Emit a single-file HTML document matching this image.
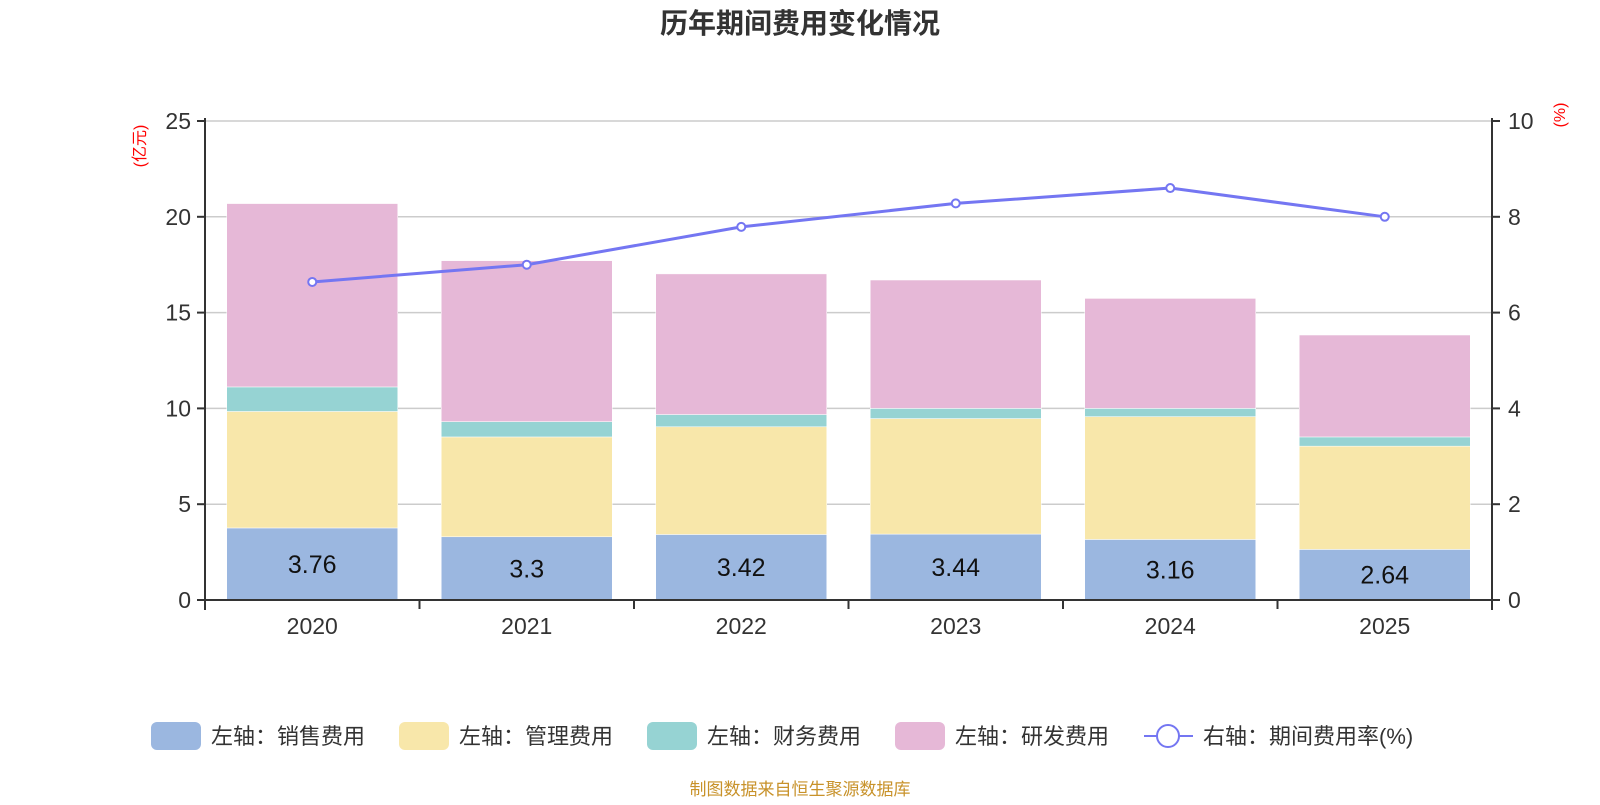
<!DOCTYPE html>
<html><head><meta charset="utf-8"><style>
body{margin:0;background:#fff;font-family:"Liberation Sans","Noto Sans CJK SC",sans-serif}
svg text{font-family:"Liberation Sans","Noto Sans CJK SC",sans-serif}
</style></head><body>
<svg id="c" width="1600" height="800" xmlns="http://www.w3.org/2000/svg">
<text x="800" y="33" text-anchor="middle" font-size="28" font-weight="bold" fill="#333">历年期间费用变化情况</text>
<text transform="translate(145,146) rotate(-90)" text-anchor="middle" font-size="16" fill="#f00">(亿元)</text>
<text transform="translate(1565,115) rotate(-90)" text-anchor="middle" font-size="16" fill="#f00">(%)</text>
<g id="grid"></g><g id="bars"></g><g id="axes"></g><g id="line"></g>
<g id="legend" font-size="22" fill="#333">
<rect x="151" y="722" width="50" height="28" rx="6" fill="#9bb7e0"/>
<text x="211" y="744">左轴：销售费用</text>
<rect x="399" y="722" width="50" height="28" rx="6" fill="#f8e7aa"/>
<text x="459" y="744">左轴：管理费用</text>
<rect x="647" y="722" width="50" height="28" rx="6" fill="#96d3d3"/>
<text x="707" y="744">左轴：财务费用</text>
<rect x="895" y="722" width="50" height="28" rx="6" fill="#e6b8d7"/>
<text x="955" y="744">左轴：研发费用</text>
<line x1="1144" y1="736" x2="1193" y2="736" stroke="#7476f2" stroke-width="2"/>
<circle cx="1168" cy="736" r="11" fill="#fff" stroke="#7476f2" stroke-width="2"/>
<text x="1203" y="744">右轴：期间费用率(%)</text>
</g>
<text x="800" y="795" text-anchor="middle" font-size="17" fill="#c8922a">制图数据来自恒生聚源数据库</text>
</svg>
<script>
const categories=["2020","2021","2022","2023","2024","2025"];
const sales=[3.76,3.3,3.42,3.44,3.16,2.64];
const admin=[6.08,5.21,5.62,6.03,6.41,5.39];
const finance=[1.28,0.8,0.64,0.53,0.43,0.48];
const rd=[9.57,8.4,7.34,6.7,5.74,5.32];
const rate=[6.64,7.0,7.79,8.28,8.6,8.0];
const leftTicks=[0,5,10,15,20,25];
const rightTicks=[0,2,4,6,8,10];
const NS="http://www.w3.org/2000/svg";
const X0=205,X1=1492,Y0=600,Y1=121;
const band=(X1-X0)/categories.length;
const xc=i=>X0+band*(i+0.5);
const yl=v=>Y0-(v/25)*(Y0-Y1);
const yr=v=>Y0-(v/10)*(Y0-Y1);
function mk(tag,attrs,parent){const e=document.createElementNS(NS,tag);for(const k in attrs)e.setAttribute(k,attrs[k]);document.getElementById(parent).appendChild(e);return e;}
leftTicks.forEach((t,i)=>{
  const y=yl(t);
  if(t>0){const g=mk('line',{x1:X0,x2:X1,y1:y,y2:y,stroke:'#ccc','stroke-width':1.5},'grid');
  
  }
  const tk=mk('line',{x1:X0-8,x2:X0,y1:y,y2:y,stroke:'#333','stroke-width':2},'axes');
  
  
  const lb=mk('text',{x:X0-14,y:y+8,'text-anchor':'end','font-size':23,fill:'#333'},'axes');lb.textContent=t;
  
  
});
rightTicks.forEach(t=>{
  const y=yr(t);
  const tk=mk('line',{x1:X1,x2:X1+8,y1:y,y2:y,stroke:'#333','stroke-width':2},'axes');
  
  
  const lb=mk('text',{x:X1+16,y:y+8,'font-size':23,fill:'#333'},'axes');lb.textContent=t;
  
  
});
let a=mk('line',{x1:X0,x2:X0,y1:Y1-3,y2:Y0+10,stroke:'#333','stroke-width':2},'axes');


a=mk('line',{x1:X1,x2:X1,y1:Y1-3,y2:Y0+10,stroke:'#333','stroke-width':2},'axes');


a=mk('line',{x1:X0,x2:X1,y1:Y0,y2:Y0,stroke:'#333','stroke-width':2},'axes');


for(let i=0;i<=categories.length;i++){
  const x=X0+band*i;
  const t=mk('line',{x1:x,x2:x,y1:Y0,y2:Y0+9,stroke:'#333','stroke-width':2},'axes');
  
  
}
const series=[[sales,'#9bb7e0','sales'],[admin,'#f8e7aa','admin'],[finance,'#96d3d3','finance'],[rd,'#e6b8d7','rd']];
const bw=171;
categories.forEach((c,i)=>{
  let base=0;
  series.forEach(([arr,col,nm])=>{
    const v=arr[i];
    const r=mk('rect',{x:xc(i)-bw/2,y:yl(base+v),width:bw,height:yl(base)-yl(base+v),fill:col,stroke:'#fff','stroke-width':0.5},'bars');
    
    
    base+=v;
  });
  const vl=mk('text',{x:xc(i),y:(yl(0)+yl(sales[i]))/2+9,'text-anchor':'middle','font-size':25,fill:'#111'},'bars');
  vl.textContent=sales[i];
  
  
  const xl=mk('text',{x:xc(i),y:634,'text-anchor':'middle','font-size':23,fill:'#333'},'axes');
  xl.textContent=c;
  
  
});
const pts=rate.map((v,i)=>xc(i)+','+yr(v)).join(' ');
const pl=mk('polyline',{points:pts,fill:'none',stroke:'#7476f2','stroke-width':3},'line');


rate.forEach((v,i)=>{
  const p=mk('circle',{cx:xc(i),cy:yr(v),r:4,fill:'#fff',stroke:'#7476f2','stroke-width':2},'line');
  
  
});
</script>
</body></html>
